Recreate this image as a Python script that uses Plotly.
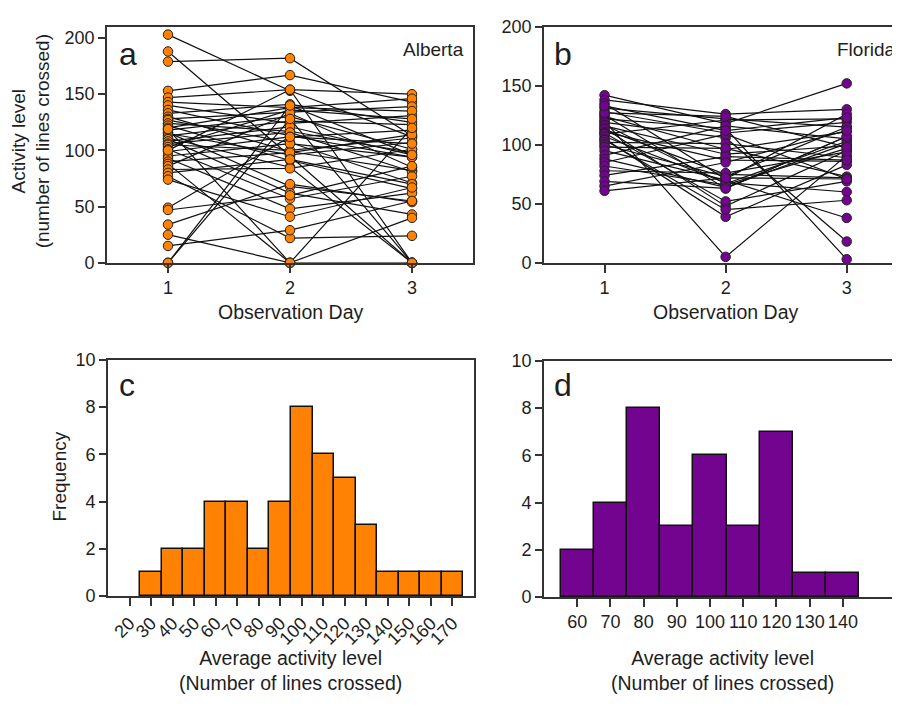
import plotly.graph_objects as go

days = [1, 2, 3]

alberta_day1 = [203, 188, 179, 153, 147, 143, 140, 136, 133, 130, 128, 127, 124, 122, 120,
                118, 116, 115, 113, 111, 110, 108, 106, 105, 103, 101, 99, 95, 93, 90,
                88, 86, 83, 80, 77, 74, 49, 47, 34, 25, 15, 0, 0, 100, 119]
alberta_day2 = [153, 95, 182, 167, 154, 138, 124, 113, 141, 99, 134, 107, 117, 91, 138,
                130, 68, 96, 126, 85, 62, 121, 116, 100, 136, 57, 112, 106, 48, 98,
                0, 133, 84, 92, 22, 41, 112, 60, 70, 0, 29, 140, 128, 154, 0]
alberta_day3 = [112, 0, 113, 143, 150, 146, 131, 94, 125, 82, 139, 71, 98, 66, 135,
                101, 55, 107, 123, 0, 43, 96, 81, 111, 128, 77, 118, 94, 62, 114,
                40, 85, 101, 70, 24, 67, 106, 86, 54, 0, 55, 96, 0, 0, 120]

florida_day1 = [142, 138, 135, 131, 128, 125, 124, 122, 120, 119, 117, 116, 114, 113, 111,
                110, 109, 107, 105, 104, 102, 100, 98, 95, 91, 88, 85, 82, 78, 74,
                69, 65, 61, 127, 133]
florida_day2 = [118, 126, 71, 122, 110, 63, 96, 114, 5, 106, 67, 92, 48, 75, 87,
                52, 121, 68, 39, 45, 101, 73, 97, 70, 116, 64, 109, 66, 76, 90,
                63, 85, 72, 124, 112]
florida_day3 = [152, 130, 126, 115, 119, 107, 111, 3, 91, 18, 103, 99, 95, 72, 86,
                69, 122, 60, 83, 53, 89, 115, 73, 38, 105, 101, 71, 97, 94, 87,
                107, 112, 71, 98, 123]

alberta_bins = [30, 40, 50, 60, 70, 80, 90, 100, 110, 120, 130, 140, 150, 160, 170]
alberta_counts = [1, 2, 2, 4, 4, 2, 4, 8, 6, 5, 3, 1, 1, 1, 1]
alberta_ticks = [20, 30, 40, 50, 60, 70, 80, 90, 100, 110, 120, 130, 140, 150, 160, 170]

florida_bins = [60, 70, 80, 90, 100, 110, 120, 130, 140]
florida_counts = [2, 4, 8, 3, 6, 3, 7, 1, 1]

ORANGE = "#FF8204"
PURPLE = "#73048F"
AX = "#333333"
TXT = "#1e1e1e"
FONT = "Liberation Sans, Arial, sans-serif"


def paired(d1, d2, d3):
    xs, ys = [], []
    for a, b, c in zip(d1, d2, d3):
        xs += days + [None]
        ys += [a, b, c, None]
    return xs, ys


fig = go.Figure()

for d1, d2, d3, col, ax in [(alberta_day1, alberta_day2, alberta_day3, ORANGE, ""),
                            (florida_day1, florida_day2, florida_day3, PURPLE, "2")]:
    lx, ly = paired(d1, d2, d3)
    fig.add_trace(go.Scatter(x=lx, y=ly, mode="lines", line=dict(color="#111111", width=1.2),
                             xaxis="x" + ax, yaxis="y" + ax, showlegend=False, hoverinfo="skip",
                             cliponaxis=False))
    mx = [1] * len(d1) + [2] * len(d2) + [3] * len(d3)
    my = list(d1) + list(d2) + list(d3)
    fig.add_trace(go.Scatter(x=mx, y=my, mode="markers",
                             marker=dict(color=col, size=9.5, line=dict(color="#222222", width=1)),
                             xaxis="x" + ax, yaxis="y" + ax, showlegend=False, cliponaxis=False))

fig.add_trace(go.Bar(x=alberta_bins, y=alberta_counts, width=10,
                     marker=dict(color=ORANGE, line=dict(color="#111111", width=1.5)),
                     xaxis="x3", yaxis="y3", showlegend=False))
fig.add_trace(go.Bar(x=florida_bins, y=florida_counts, width=10,
                     marker=dict(color=PURPLE, line=dict(color="#111111", width=1.5)),
                     xaxis="x4", yaxis="y4", showlegend=False))

# The page body adds an 8px offset; work in screen pixels and convert.
OX, OY = 8, 8
W, H = 892, 700


def dx(a, b):
    return [(a - OX) / W, min(1.0, (b - OX) / W)]


def dy(top, bottom):
    return [1 - (bottom - OY) / H, 1 - (top - OY) / H]


tickfont = dict(family=FONT, size=18, color=TXT)
common = dict(showgrid=False, zeroline=False, showline=True, linecolor=AX, linewidth=1.6,
              ticks="outside", tickcolor=AX, tickwidth=1.6, tickfont=tickfont)

fig.update_layout(
    width=W, height=H, margin=dict(l=0, r=0, t=0, b=0),
    paper_bgcolor="white", plot_bgcolor="white", bargap=0,
    font=dict(family=FONT, color=TXT),
    xaxis=dict(domain=dx(107, 473), range=[0.5, 3.5], tickvals=days, ticklen=8,
               mirror=True, anchor="y", **common),
    yaxis=dict(domain=dy(17, 260), range=[0, 210], tickvals=[0, 50, 100, 150, 200], ticklen=7,
               mirror=True, anchor="x", **common),
    xaxis2=dict(domain=dx(544, 900), range=[0.5, 3.44], tickvals=days, ticklen=8,
                mirror=True, anchor="y2", **common),
    yaxis2=dict(domain=dy(17, 260), range=[0, 200], tickvals=[0, 50, 100, 150, 200], ticklen=7,
                anchor="x2", **common),
    xaxis3=dict(domain=dx(108, 474), range=[10, 180], tickvals=alberta_ticks, ticklen=8,
                tickangle=-45, mirror=True, anchor="y3", **common),
    yaxis3=dict(domain=dy(360, 603), range=[0, 10], tickvals=[0, 2, 4, 6, 8, 10], ticklen=7,
                mirror=True, anchor="x3", **common),
    xaxis4=dict(domain=dx(544, 900), range=[50, 157.2], tickvals=florida_bins, ticklen=8,
                mirror=True, anchor="y4", **common),
    yaxis4=dict(domain=dy(361, 604), range=[0, 10], tickvals=[0, 2, 4, 6, 8, 10], ticklen=7,
                anchor="x4", **common),
)


def px_ann(text, x, y, size, xanchor="center", yanchor="middle", angle=0):
    fig.add_annotation(text=text, x=(x - OX) / W, y=1 - (y - OY) / H, xref="paper", yref="paper",
                       showarrow=False, xanchor=xanchor, yanchor=yanchor, textangle=angle,
                       font=dict(family=FONT, size=size, color=TXT))


px_ann("a", 117, 45, 32, xanchor="left")
px_ann("b", 552, 45, 32, xanchor="left")
px_ann("c", 117, 386, 32, xanchor="left")
px_ann("d", 552, 386, 32, xanchor="left")
px_ann("Alberta", 466, 40, 19, xanchor="right")
px_ann("Florida", 898, 40, 19, xanchor="right")
px_ann("Activity level<br>(number of lines crossed)", 31, 135, 19, angle=-90)
px_ann("Observation Day", 290, 311, 19.5)
px_ann("Observation Day", 725, 311, 19.5)
px_ann("Frequency", 60, 480, 19, angle=-90)
px_ann("Average activity level<br>(Number of lines crossed)", 290, 680, 19.5)
px_ann("Average activity level<br>(Number of lines crossed)", 722, 680, 19.5)

fig.write_html("out.html")
